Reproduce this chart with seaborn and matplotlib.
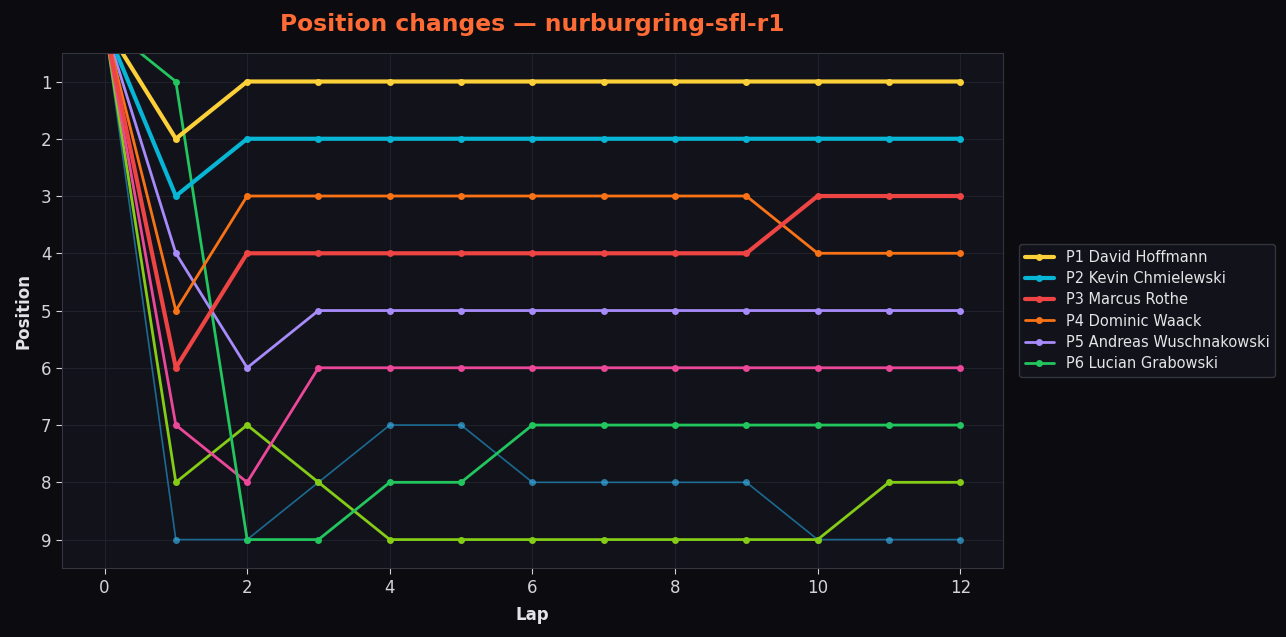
import numpy as np
import pandas as pd
import matplotlib
matplotlib.use("Agg")
import matplotlib.pyplot as plt
import seaborn as sns

laps = list(range(13))

p1_hoffmann = [0, 2, 1, 1, 1, 1, 1, 1, 1, 1, 1, 1, 1]
p2_chmielewski = [0, 3, 2, 2, 2, 2, 2, 2, 2, 2, 2, 2, 2]
p3_rothe = [0, 6, 4, 4, 4, 4, 4, 4, 4, 4, 3, 3, 3]
p4_waack = [0, 5, 3, 3, 3, 3, 3, 3, 3, 3, 4, 4, 4]
p5_wuschnakowski = [0, 4, 6, 5, 5, 5, 5, 5, 5, 5, 5, 5, 5]
p6_grabowski = [0, 1, 9, 9, 8, 8, 7, 7, 7, 7, 7, 7, 7]
other_pink = [0, 7, 8, 6, 6, 6, 6, 6, 6, 6, 6, 6, 6]
other_lime = [0, 8, 7, 8, 9, 9, 9, 9, 9, 9, 9, 8, 8]
other_teal = [0, 9, 9, 8, 7, 7, 8, 8, 8, 8, 9, 9, 9]

# (values, label, colour, linewidth, alpha)
series = [
    (other_teal, None, "#1f8fc4", 1.2, 0.7),
    (other_lime, None, "#84cc16", 2.0, 1.0),
    (other_pink, None, "#ec4899", 2.0, 1.0),
    (p6_grabowski, "P6 Lucian Grabowski", "#22c55e", 2.0, 1.0),
    (p5_wuschnakowski, "P5 Andreas Wuschnakowski", "#a78bfa", 2.0, 1.0),
    (p4_waack, "P4 Dominic Waack", "#f97316", 2.0, 1.0),
    (p3_rothe, "P3 Marcus Rothe", "#ef4444", 3.0, 1.0),
    (p2_chmielewski, "P2 Kevin Chmielewski", "#06b6d4", 3.0, 1.0),
    (p1_hoffmann, "P1 David Hoffmann", "#fbd038", 3.0, 1.0),
]

sns.set_style("dark")
plt.rcParams["font.family"] = ["DejaVu Sans"]

fig = plt.figure(figsize=(12.86, 6.37), dpi=100, facecolor="#0b0b10")
ax = fig.add_axes([0.048, 0.108, 0.732, 0.809])
ax.set_facecolor("#12131a")

for vals, label, col, lw, al in series:
    mfc = "#35a8de" if label is None and lw < 1.5 else col
    sns.lineplot(x=laps, y=vals, ax=ax, color=col, linewidth=lw, alpha=al,
                 marker="o", markersize=5, markeredgewidth=0,
                 markerfacecolor=mfc, label=label, legend=False)

ax.set_xlim(-0.6, 12.6)
ax.set_ylim(9.5, 0.5)
ax.set_yticks(range(1, 10))
ax.set_xticks(range(0, 13, 2))
ax.grid(True, color="#262732", linewidth=0.8, alpha=0.7)
ax.set_axisbelow(True)
for s in ax.spines.values():
    s.set_color("#33343d")
    s.set_visible(True)
ax.tick_params(colors="#d4d4d8", labelsize=12, length=4, left=True, bottom=True)

ax.set_xlabel("Lap", color="#e4e4e7", fontsize=12, fontweight="bold", labelpad=7)
ax.set_ylabel("Position", color="#e4e4e7", fontsize=12, fontweight="bold", labelpad=6)
fig.suptitle("Position changes — nurburgring-sfl-r1", x=0.414, y=0.98,
             color="#ff6b35", fontsize=16.8, fontweight="bold")

h, l = ax.get_legend_handles_labels()
order = sorted(range(len(l)), key=lambda i: l[i])
leg = ax.legend([h[i] for i in order], [l[i] for i in order],
                loc="center left", bbox_to_anchor=(1.017, 0.5), borderaxespad=0,
                fontsize=10.5, labelspacing=0.42, facecolor="#12131a",
                edgecolor="#33343d", labelcolor="#e4e4e7", framealpha=1.0)

fig.savefig("out.png", dpi=100, facecolor=fig.get_facecolor())
